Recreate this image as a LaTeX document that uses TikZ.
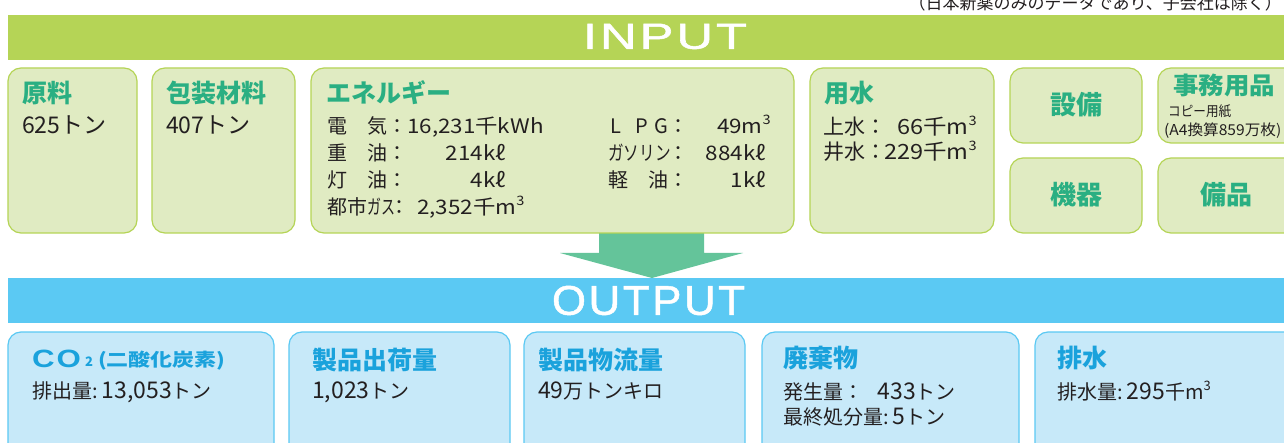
\documentclass[tikz,border=0pt]{standalone}
\usepackage{fontspec}
\usepackage{graphicx}
\setmainfont{Noto Sans CJK JP}
\newfontfamily\lat{Liberation Sans}[LetterSpace=6, FakeBold=1.2]
\newfontfamily\latb{Liberation Sans}
\definecolor{barG}{HTML}{B5D456}
\definecolor{boxG}{HTML}{E0EBC2}
\definecolor{ttlG}{HTML}{2AAF82}
\definecolor{arrG}{HTML}{64C49A}
\definecolor{barB}{HTML}{5BC9F3}
\definecolor{boxB}{HTML}{C7E9F9}
\definecolor{ttlB}{HTML}{1AA2DC}
\definecolor{txt}{HTML}{231F20}
\newcommand\cubic{\raisebox{0.45em}{\fontsize{13}{13}\selectfont 3}}
\newcommand\nm[1]{{\fontsize{23}{23}\selectfont #1}}
\newcommand\wide[1]{\scalebox{1.12}[1]{#1}}
\begin{document}
\begin{tikzpicture}[x=1pt,y=-1pt,
  inbox/.style={draw=barG, fill=boxG, line width=1.2pt, rounded corners=13pt},
  outbox/.style={draw=barB, fill=boxB, line width=1.2pt, rounded corners=13pt},
  ttl/.style={inner sep=0pt, anchor=base west, font=\fontsize{25}{25}\selectfont\bfseries, text=ttlG},
  ttlb/.style={ttl, text=ttlB},
  cen/.style={inner sep=0pt, font=\fontsize{26}{26}\selectfont\bfseries, text=ttlG},
  bd/.style={inner sep=0pt, anchor=base west, font=\fontsize{20}{20}\selectfont, text=txt},
  bdr/.style={bd, anchor=base east},
  en/.style={inner sep=0pt, anchor=base west, font=\fontsize{20}{20}\selectfont, text=txt},
  enr/.style={en, anchor=base east},
]
\useasboundingbox (0,0) rectangle (1284,443);
\fill[white] (0,0) rectangle (1284,443);

% note
\node[inner sep=0pt, anchor=base east, font=\fontsize{17}{17}\selectfont, text=txt] (note) at (1282,10) {（日本新薬のみのデータであり、子会社は除く）};

% bars
\fill[barG] (8,15) rectangle (1300,60);
\fill[barB] (8,278) rectangle (1300,323);
\node[inner sep=0pt, text=white] (inp) at (665,36.5) {\resizebox{164pt}{25pt}{\lat INPUT}};
\node[inner sep=0pt, text=white] (outp) at (648.5,300.5) {\resizebox{193pt}{29pt}{\lat OUTPUT}};

% arrow
\fill[arrG] (599,233) -- (704,233) -- (704,253) -- (743,253) -- (652,278) -- (560,253) -- (599,253) -- cycle;

% input boxes
\draw[inbox] (8,68) rectangle (137,233);
\draw[inbox] (152,68) rectangle (295,233);
\draw[inbox] (311,68) rectangle (794,233);
\draw[inbox] (810,68) rectangle (994,233);
\draw[inbox] (1010,68) rectangle (1142,143);
\draw[inbox] (1010,158) rectangle (1142,233);
\draw[inbox] (1158,68) rectangle (1310,143);
\draw[inbox] (1158,158) rectangle (1310,233);

% output boxes
\draw[outbox] (8,332) rectangle (274,470);
\draw[outbox] (289,332) rectangle (510,470);
\draw[outbox] (524,332) rectangle (745,470);
\draw[outbox] (762,332) rectangle (1019,470);
\draw[outbox] (1035,332) rectangle (1310,470);

% 原料
\node[ttl] (genryo) at (22,103) {原料};
\node[bd, font=\fontsize{23}{23}\selectfont] (genryoV) at (22,134) {625トン};
% 包装材料
\node[ttl] (hoso) at (166,103) {包装材料};
\node[bd, font=\fontsize{23}{23}\selectfont] (hosoV) at (166,134) {407トン};
% エネルギー
\node[ttl] (ene) at (326,103) {エネルギー};
\node[en] (e1l) at (327,134) {電　気：};
\node[en] (e1v) at (407,134) {\wide{16,231千kWh}};
\node[en] (e2l) at (327,161) {重　油：};
\node[enr] (e2v) at (506,161) {\wide{214kℓ}};
\node[en] (e3l) at (327,188) {灯　油：};
\node[enr] (e3v) at (506,188) {\wide{4kℓ}};
\node[en] (e4l) at (327,215) {都市\scalebox{0.7}[1]{ガス}};
\node[en] (e4c) at (389,215) {：};
\node[en] (e4v) at (417,215) {\wide{2,352千m\cubic}};
\node[en] (e5l) at (610,134) {L\hspace{14pt}P\hspace{7pt}G};
\node[en] (e5c) at (668,134) {：};
\node[enr] (e5v) at (771,134) {\wide{49m\cubic}};
\node[en] (e6l) at (608,161) {\scalebox{0.78}[1]{ガソリン}};
\node[en] (e6c) at (668,161) {：};
\node[enr] (e6v) at (766,161) {\wide{884kℓ}};
\node[en] (e7l) at (608,188) {軽　油};
\node[en] (e7c) at (668,188) {：};
\node[enr] (e7v) at (766,188) {\wide{1kℓ}};
% 用水
\node[ttl] (yosui) at (824,103) {用水};
\node[bd, font=\fontsize{21}{21}\selectfont] (y1l) at (823,135) {上水：};
\node[bdr, font=\fontsize{21}{21}\selectfont] (y1v) at (977,135) {\wide{66千m\cubic}};
\node[bd, font=\fontsize{21}{21}\selectfont] (y2l) at (823,160) {井水：};
\node[bdr, font=\fontsize{21}{21}\selectfont] (y2v) at (977,160) {\wide{229千m\cubic}};
% 設備 etc
\node[cen] (setsubi) at (1076,105) {設備};
\node[cen] (kiki) at (1076,195) {機器};
\node[cen] (bihin) at (1226,195) {備品};
% 事務用品
\node[ttl, font=\fontsize{24}{24}\selectfont\bfseries] (jimu) at (1173,95) {\scalebox{1.06}[1]{事務用品}};
\node[bd, font=\fontsize{14}{14}\selectfont] (jimu1) at (1168,117) {\scalebox{0.9}[1]{コピー用紙}};
\node[bd, font=\fontsize{15}{15}\selectfont] (jimu2) at (1164,136) {\scalebox{1.04}[1]{(A4換算859万枚)}};

% CO2
\node[inner sep=0pt, anchor=base west, font=\fontsize{25}{25}\selectfont, text=ttlB] (co) at (32,367) {\scalebox{1.25}[1]{\latb\bfseries C\kern1.5ptO}};
\node[inner sep=0pt, anchor=base west, font=\fontsize{13}{13}\selectfont\bfseries, text=ttlB] (co2) at (85,366) {2};
\node[inner sep=0pt, anchor=base west, font=\fontsize{18}{18}\selectfont\bfseries, text=ttlB] (co3) at (98,366) {\scalebox{1.22}[1]{(二酸化炭素)}};
\node[bd] (coV) at (32,398) {排出量:\hspace{4pt}\nm{13,053}トン};
% 製品出荷量
\node[ttlb] (shukka) at (312,369) {製品出荷量};
\node[bd] (shukkaV) at (312,398) {\nm{1,023}トン};
% 製品物流量
\node[ttlb] (butsu) at (538,369) {製品物流量};
\node[bd] (butsuV) at (538,398) {\nm{49}万トンキロ};
% 廃棄物
\node[ttlb] (haiki) at (783,367) {廃棄物};
\node[bd] (haiki1) at (783,399) {発生量：};
\node[bdr] (haiki1v) at (956,399) {\nm{433}トン};
\node[bd] (haiki2) at (783,424) {最終処分量:\hspace{4pt}\nm{5}トン};
% 排水
\node[ttlb] (haisui) at (1057,367) {排水};
\node[bd] (haisuiV) at (1057,399) {排水量:\hspace{4pt}\nm{295}千m\cubic};
\end{tikzpicture}
\end{document}
